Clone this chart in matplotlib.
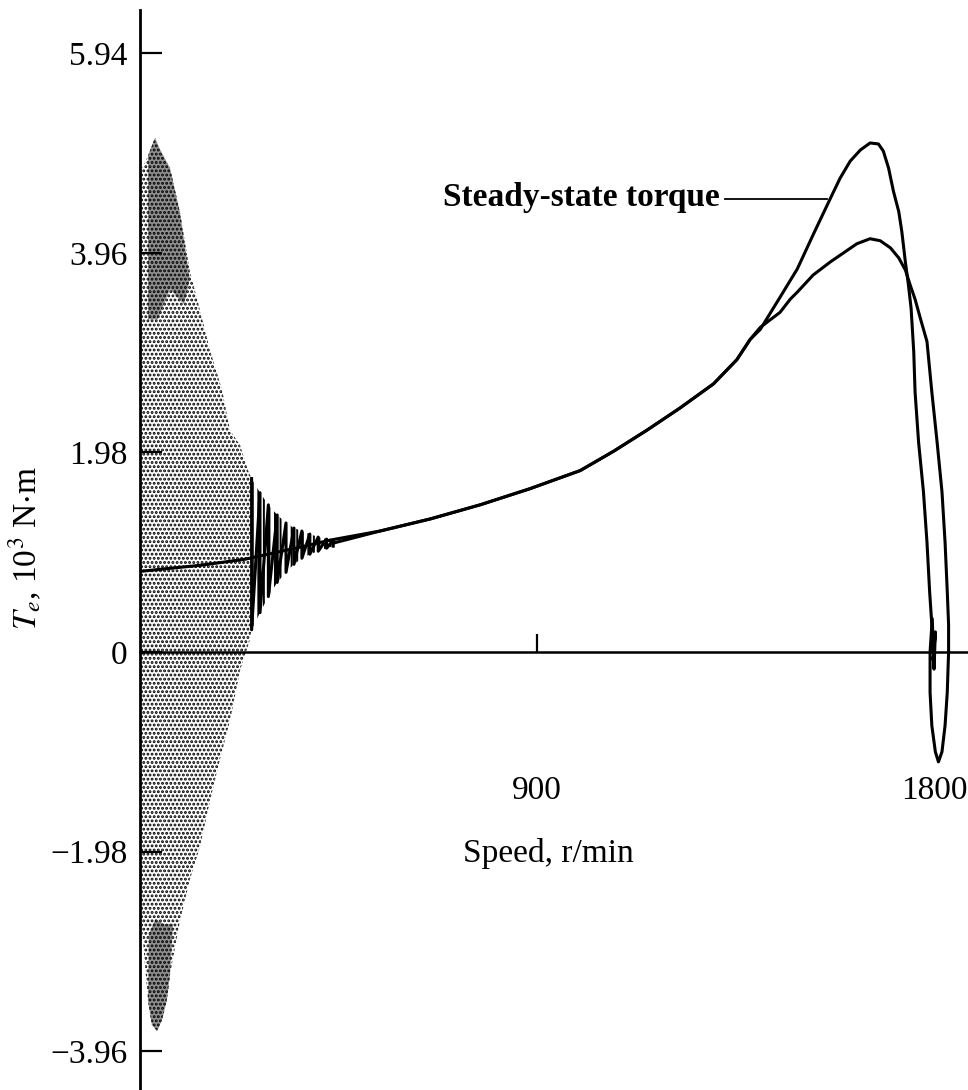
import numpy as np
import matplotlib.pyplot as plt

plt.rcParams['font.family'] = ['Liberation Serif', 'DejaVu Serif']
plt.rcParams['mathtext.fontset'] = 'stix'
plt.rcParams['hatch.linewidth'] = 1.4

# steady-state torque vs speed (r/min, 10^3 N.m)
ss_speed = [0, 136, 238, 363, 431, 544, 658, 771, 884, 998, 1073, 1149, 1224,
            1300, 1353, 1383, 1406, 1451, 1490, 1526, 1565, 1587, 1610, 1633,
            1655, 1674, 1685, 1697, 1708, 1720, 1727, 1735, 1742, 1748, 1754,
            1757, 1765, 1776, 1784, 1790, 1795, 1797]
ss_torque = [0.80, 0.86, 0.92, 1.04, 1.11, 1.20, 1.32, 1.46, 1.62, 1.80, 1.99,
             2.20, 2.42, 2.66, 2.90, 3.10, 3.20, 3.52, 3.80, 4.14, 4.50, 4.70,
             4.87, 4.98, 5.05, 5.04, 4.97, 4.80, 4.57, 4.37, 4.17, 3.87, 3.64,
             3.41, 2.98, 2.58, 2.08, 1.59, 1.09, 0.60, 0.27, 0.0]

# envelope of the fast oscillation right after switching on
band_up_speed = [2, 18, 34, 45, 68, 91, 113, 136, 159, 186, 204, 227, 245, 253]
band_up_torque = [4.77, 4.92, 5.10, 4.99, 4.80, 4.35, 3.78, 3.39, 2.99, 2.60,
                  2.20, 2.05, 1.80, 1.72]
band_lo_speed = [2, 18, 27, 39, 50, 61, 68, 91, 113, 136, 159, 181, 204, 227,
                 238, 249, 253]
band_lo_torque = [-2.62, -3.45, -3.70, -3.76, -3.65, -3.45, -3.20, -2.66, -2.26,
                  -1.93, -1.47, -1.07, -0.68, -0.18, -0.03, 0.12, 0.22]

# darker clusters inside the band
dark_top_speed = [18, 34, 45, 68, 91, 113, 100, 68, 40, 18]
dark_top_torque = [4.92, 5.10, 4.99, 4.80, 4.35, 3.70, 3.45, 3.60, 3.30, 3.30]
dark_bot_speed = [18, 27, 39, 50, 61, 68, 75, 55, 35, 20]
dark_bot_torque = [-3.45, -3.70, -3.76, -3.65, -3.45, -3.20, -2.70, -2.70,
                   -2.65, -2.80]

# decaying swings of the free-acceleration torque
swing_speed = [253, 272, 291, 311, 331, 349, 367, 385, 404, 423, 438]
swing_top = [1.72, 1.58, 1.46, 1.36, 1.28, 1.23, 1.20, 1.17, 1.14, 1.12, 1.11]
swing_bot = [0.22, 0.39, 0.55, 0.69, 0.79, 0.87, 0.93, 0.97, 1.00, 1.03, 1.05]

# free-acceleration torque after the swings die out
dyn_speed = [438, 544, 658, 771, 884, 998, 1073, 1149, 1224, 1300, 1353, 1383,
             1406, 1451, 1474, 1490, 1526, 1565, 1595, 1625, 1655, 1678, 1701,
             1720, 1735, 1746, 1757, 1769, 1784, 1795, 1807, 1818, 1825, 1830,
             1833, 1833, 1830, 1825, 1818, 1810, 1803, 1795, 1791, 1791, 1796,
             1800, 1803, 1798, 1800]
dyn_torque = [1.08, 1.20, 1.32, 1.46, 1.62, 1.80, 1.99, 2.20, 2.42, 2.66, 2.90,
              3.10, 3.22, 3.37, 3.50, 3.57, 3.74, 3.87, 3.96, 4.05, 4.10, 4.08,
              4.01, 3.91, 3.79, 3.64, 3.50, 3.31, 3.08, 2.58, 2.08, 1.59, 1.09,
              0.60, 0.27, 0.0, -0.40, -0.73, -0.99, -1.09, -0.99, -0.73, -0.40,
              0.0, 0.33, -0.17, 0.20, -0.08, 0.05]

y_ticks = [-3.96, -1.98, 0, 1.98, 3.96, 5.94]
y_tick_labels = ['\u22123.96', '\u22121.98', '0', '1.98', '3.96', '5.94']
x_ticks = [900, 1800]
x_tick_labels = ['900', '1800']

fig = plt.figure(figsize=(9.68, 10.9), dpi=100)
ax = fig.add_axes([140 / 968, 0, 828 / 968, 1])
ax.set_xlim(0, 1877)
ax.set_ylim((652 - 1090) / 100.8, 652 / 100.8)

# oscillating band drawn as a stippled region
band_x = np.r_[band_up_speed, band_lo_speed[::-1]]
band_y = np.r_[band_up_torque, band_lo_torque[::-1]]
ax.fill(band_x, band_y, facecolor='white', edgecolor='black', hatch='....',
        linewidth=0, zorder=1)
# denser speckle where the trace piles up
ax.fill(dark_top_speed, dark_top_torque, facecolor='#909090', edgecolor='black',
        hatch='....', linewidth=0, zorder=1)
ax.fill(dark_bot_speed, dark_bot_torque, facecolor='#909090', edgecolor='black',
        hatch='....', linewidth=0, zorder=1)

# swings: striped cone plus a zigzag
ax.fill_between(swing_speed, swing_top, swing_bot, facecolor='white',
                edgecolor='black', hatch='|||', linewidth=0, zorder=1)
zx, zy = [], []
for s, t, b in zip(swing_speed, swing_top, swing_bot):
    zx += [s, s]
    zy += [t, b]
ax.plot(zx, zy, color='black', lw=2.2, zorder=2)

ax.plot(ss_speed, ss_torque, color='black', lw=2.2, zorder=2)
ax.plot(dyn_speed, dyn_torque, color='black', lw=2.2, zorder=2)

# label with leader line
ax.text(1315, 4.42, 'Steady-state torque', fontsize=24, fontweight='bold',
        ha='right', va='baseline')
ax.plot([1327, 1558], [4.49, 4.49], color='black', lw=1.3)

# axes styling
for side in ['top', 'right']:
    ax.spines[side].set_visible(False)
ax.spines['left'].set_bounds((652 - 1090) / 100.8, (652 - 10) / 100.8)
ax.spines['left'].set_linewidth(2.0)
ax.spines['bottom'].set_position(('data', 0))
ax.spines['bottom'].set_linewidth(1.8)

ax.set_yticks(y_ticks)
ax.set_yticklabels(y_tick_labels)
ax.set_xticks(x_ticks)
ax.set_xticklabels(x_tick_labels)
ax.tick_params(axis='y', direction='in', length=16, width=1.6, pad=9,
               labelsize=24)
ax.tick_params(axis='x', direction='in', length=13, width=1.6, pad=89,
               labelsize=24)
ax.xaxis.get_major_ticks()[1].tick1line.set_visible(False)

ax.text(925, -2.08, 'Speed, r/min', fontsize=24, ha='center', va='baseline')
fig.text(25 / 968, 1 - 548 / 1090, r'$T_e$, 10$^3$ N$\cdot$m', fontsize=24,
         rotation=90, ha='center', va='center')

fig.savefig('out.png', dpi=100)
